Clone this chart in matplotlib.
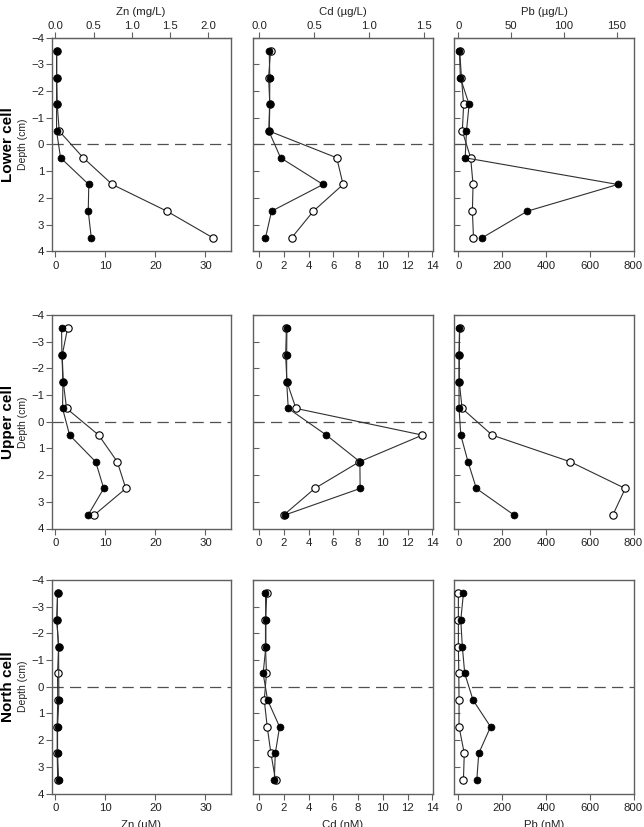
import numpy as np
import matplotlib
matplotlib.use("Agg")
import matplotlib.pyplot as plt

plt.rcParams['font.family'] = ['Liberation Sans', 'DejaVu Sans']

depth = [-3.5, -2.5, -1.5, -0.5, 0.5, 1.5, 2.5, 3.5]
nan = np.nan

# Lower cell
lower_zn_open = [0.3, 0.3, 0.4, 0.8, 5.6, 11.4, 22.3, 31.5]
lower_zn_fill = [0.27, 0.27, 0.27, 0.27, 1.07, 6.7, 6.6, 7.2]
lower_cd_open = [0.92, 0.76, 0.86, 0.81, 6.27, 6.78, 4.38, 2.62]
lower_cd_fill = [0.81, 0.86, 0.84, 0.78, 1.73, 5.16, 1.0, 0.51]
lower_pb_open = [6, 14, 24, 18, 56, 67, 64, 69]
lower_pb_fill = [5, 9, 49, 37, 31, 728, 315, 108]

# Upper cell
upper_zn_open = [2.47, 1.4, 1.6, 2.27, 8.68, 12.4, 14.1, 7.75]
upper_zn_fill = [1.27, 1.34, 1.54, 1.47, 2.87, 8.08, 9.69, 6.55]
upper_cd_open = [2.2, 2.14, 2.24, 2.97, 13.19, 8.1, 4.49, 1.97]
upper_cd_fill = [2.24, 2.22, 2.22, 2.35, 5.43, 8.14, 8.16, 2.05]
upper_pb_open = [6, 4, 4, 17, 154, 511, 762, 705]
upper_pb_fill = [5, 3, 3, 3, 11, 44, 82, 255]

# North cell
north_zn_open = [0.47, 0.33, 0.67, 0.47, 0.5, 0.4, 0.4, 0.5]
north_zn_fill = [0.47, 0.33, 0.67, nan, 0.73, 0.47, 0.47, 0.67]
north_cd_open = [0.62, 0.51, 0.51, 0.59, 0.41, 0.65, 0.95, 1.32]
north_cd_fill = [0.51, 0.54, 0.54, 0.32, 0.68, 1.65, 1.3, 1.22]
north_pb_open = [0, 0, 0, 2, 3, 3, 27, 23]
north_pb_fill = [23, 11, 18, 29, 67, 147, 93, 84]

row_names = ['Lower cell', 'Upper cell', 'North cell']
rows = [
    [(lower_zn_open, lower_zn_fill), (lower_cd_open, lower_cd_fill), (lower_pb_open, lower_pb_fill)],
    [(upper_zn_open, upper_zn_fill), (upper_cd_open, upper_cd_fill), (upper_pb_open, upper_pb_fill)],
    [(north_zn_open, north_zn_fill), (north_cd_open, north_cd_fill), (north_pb_open, north_pb_fill)],
]

bottom_units = ['Zn (\u00b5M)', 'Cd (nM)', 'Pb (nM)']
top_units = ['Zn (mg/L)', 'Cd (\u00b5g/L)', 'Pb (\u00b5g/L)']
# molar mass -> mg/L per uM, ug/L per nM
factors = [0.06538, 0.11241, 0.2072]
xlims = [(-0.7, 35), (-0.5, 14.05), (-20, 802)]
xticks = [[0, 10, 20, 30], list(range(0, 15, 2)), [0, 200, 400, 600, 800]]
top_ticks = [[0.0, 0.5, 1.0, 1.5, 2.0], [0.0, 0.5, 1.0, 1.5], [0, 50, 100, 150]]
top_fmt = ['{:.1f}', '{:.1f}', '{:.0f}']

W, H = 644, 827
fig = plt.figure(figsize=(W / 100, H / 100), dpi=100)

col_left = [51.7, 253, 454]
col_width = [178.8, 180, 180]
row_top = [37.7, 315, 580]
row_h = 213.5

spine_c = '#606060'
line_c = '#303030'
text_c = '#222222'
fs = 8.2


def draw(ax, x, y, open_marker):
    x = np.array(x, dtype=float)
    y = np.array(y, dtype=float)
    ok = ~np.isnan(x)
    if open_marker:
        ax.plot(x[ok], y[ok], '-o', color=line_c, lw=0.8, ms=5.3,
                mfc='white', mec='black', mew=0.8, zorder=3)
    else:
        ax.plot(x[ok], y[ok], '-o', color=line_c, lw=0.8, ms=5.0,
                mfc='black', mec='black', mew=0.5, zorder=4)


for r in range(3):
    for c in range(3):
        rect = [col_left[c] / W, 1 - (row_top[r] + row_h) / H, col_width[c] / W, row_h / H]
        ax = fig.add_axes(rect)
        op, fl = rows[r][c]
        ax.axhline(0, color='#505050', lw=0.9, dashes=(9, 5), zorder=2)
        draw(ax, op, depth, True)
        draw(ax, fl, depth, False)
        ax.set_xlim(*xlims[c])
        ax.set_ylim(4, -4)
        ax.set_yticks(range(-4, 5))
        ax.set_xticks(xticks[c])
        for s in ax.spines.values():
            s.set_color(spine_c)
            s.set_linewidth(1.0)
        ax.tick_params(axis='x', direction='out', length=4, color=spine_c,
                       labelsize=fs, pad=3, labelcolor=text_c)
        if c == 0:
            ax.tick_params(axis='y', direction='out', length=4, color=spine_c,
                           labelsize=fs, pad=1.5, labelcolor=text_c)
            ax.set_ylabel('Depth (cm)', fontsize=7.5, color=text_c)
            ax.yaxis.set_label_coords(-0.135, 0.5)
            yc = 1 - (row_top[r] + row_h / 2) / H
            fig.text(8 / W, yc, row_names[r], rotation=90, fontsize=11,
                     fontweight='bold', ha='center', va='center')
        else:
            ax.tick_params(axis='y', direction='in', length=4, color=spine_c,
                           labelleft=False)
        if r == 2:
            ax.set_xlabel(bottom_units[c], fontsize=fs, labelpad=5, color=text_c)
        if r == 0:
            f = factors[c]
            sec = ax.secondary_xaxis('top', functions=(lambda v, f=f: v * f,
                                                       lambda v, f=f: v / f))
            sec.set_xticks(top_ticks[c])
            sec.set_xticklabels([top_fmt[c].format(t) for t in top_ticks[c]])
            sec.tick_params(direction='out', length=4, color=spine_c,
                            labelsize=fs, pad=0.5, labelcolor=text_c)
            sec.spines['top'].set_color(spine_c)
            sec.set_xlabel(top_units[c], fontsize=fs, labelpad=5, color=text_c)

fig.savefig('out.png', dpi=100)
